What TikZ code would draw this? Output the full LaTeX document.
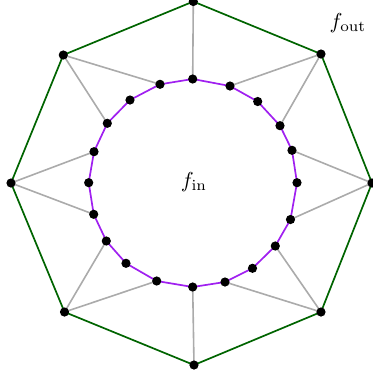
\documentclass[tikz,border=0pt]{standalone}
\definecolor{innerpurple}{RGB}{160,32,240}
\definecolor{outergreen}{RGB}{0,100,0}
\begin{document}
\begin{tikzpicture}[x=0.5pt,y=-0.5pt,
  outer/.style={draw=outergreen, line width=0.85pt},
  inner/.style={draw=innerpurple, line width=0.85pt},
  spoke/.style={draw=black!33, line width=0.8pt},
  dot/.style={circle, fill=black, inner sep=0pt, minimum size=4.6pt}]
\useasboundingbox (0,0) rectangle (372,377);
% outer vertices
\coordinate (o1) at (193.3,1.5);
\coordinate (o2) at (321,54);
\coordinate (o3) at (372,183);
\coordinate (o4) at (321,312);
\coordinate (o5) at (194,365);
\coordinate (o6) at (64.5,312);
\coordinate (o7) at (11,183);
\coordinate (o8) at (63.3,55);
% inner vertices
\coordinate (i1) at (192.7,79);
\coordinate (i2) at (230,86);
\coordinate (i3) at (257.7,101.5);
\coordinate (i4) at (280,125.7);
\coordinate (i5) at (292,150.3);
\coordinate (i6) at (297,182.7);
\coordinate (i7) at (290.5,219.5);
\coordinate (i8) at (275.3,246);
\coordinate (i9) at (252.5,268.3);
\coordinate (i10) at (225,282);
\coordinate (i11) at (192.7,287);
\coordinate (i12) at (156.7,281);
\coordinate (i13) at (126,263.3);
\coordinate (i14) at (106.3,241);
\coordinate (i15) at (93.7,214.3);
\coordinate (i16) at (88.7,182.7);
\coordinate (i17) at (94,151.7);
\coordinate (i18) at (107.3,123.3);
\coordinate (i19) at (130,100);
\coordinate (i20) at (160,84.3);
% spokes
\draw[spoke] (o1) -- (i1);
\draw[spoke] (o2) -- (i2);
\draw[spoke] (o2) -- (i4);
\draw[spoke] (o3) -- (i5);
\draw[spoke] (o3) -- (i7);
\draw[spoke] (o4) -- (i8);
\draw[spoke] (o4) -- (i10);
\draw[spoke] (o5) -- (i11);
\draw[spoke] (o6) -- (i12);
\draw[spoke] (o6) -- (i14);
\draw[spoke] (o7) -- (i15);
\draw[spoke] (o7) -- (i17);
\draw[spoke] (o8) -- (i18);
\draw[spoke] (o8) -- (i20);
% polygons
\draw[outer] (o1) -- (o2) -- (o3) -- (o4) -- (o5) -- (o6) -- (o7) -- (o8) -- cycle;
\draw[inner] (i1) -- (i2) -- (i3) -- (i4) -- (i5) -- (i6) -- (i7) -- (i8) -- (i9) -- (i10) -- (i11) -- (i12) -- (i13) -- (i14) -- (i15) -- (i16) -- (i17) -- (i18) -- (i19) -- (i20) -- cycle;
% dots
\foreach \k in {1,...,8} \node[dot] (do\k) at (o\k) {};
\foreach \k in {1,...,20} \node[dot] (di\k) at (i\k) {};
% labels
\node[scale=1.08] (fout) at (348,23) {$f_{\mathrm{out}}$};
\node[scale=1.08] (fin) at (194,182) {$f_{\mathrm{in}}$};
\end{tikzpicture}
\end{document}
